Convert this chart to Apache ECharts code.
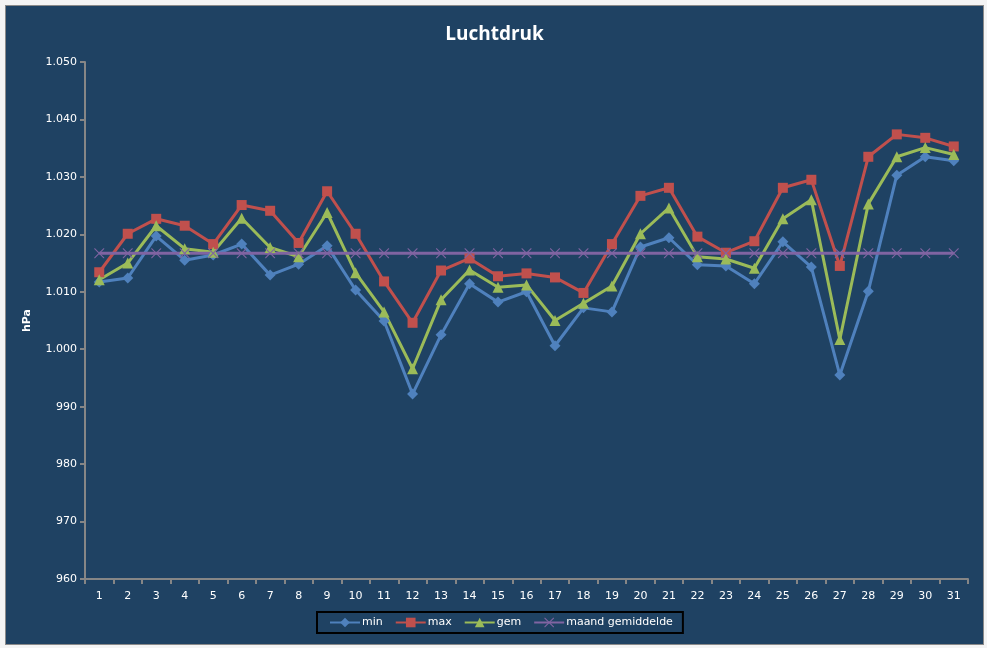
<!DOCTYPE html>
<html>
<head>
<meta charset="utf-8">
<script src="https://cdn.jsdelivr.net/npm/echarts@6/dist/echarts.min.js"></script>
<style>
  html, body { margin: 0; padding: 0; background: #f4f4f4; }
  #chart {
    position: absolute; left: 5px; top: 5px;
    width: 979px; height: 640px;
    box-sizing: border-box;
    border: 1px solid #8a8a8a;
    background: #1f4263;
  }
</style>
</head>
<body>
<div id="chart"></div>
<script>
// dagen van de maand
var days = ['1', '2', '3', '4', '5', '6', '7', '8', '9', '10', '11', '12', '13', '14', '15', '16',
  '17', '18', '19', '20', '21', '22', '23', '24', '25', '26', '27', '28', '29', '30', '31']

var minValues = [1011.7, 1012.4, 1019.7, 1015.5, 1016.4, 1018.3, 1012.9, 1014.8, 1018.0, 1010.3,
  1004.9, 992.2, 1002.5, 1011.4, 1008.2, 1010.0, 1000.6, 1007.2, 1006.5, 1017.8,
  1019.4, 1014.7, 1014.5, 1011.4, 1018.7, 1014.3, 995.5, 1010.1, 1030.3, 1033.5, 1032.8]

var maxValues = [1013.4, 1020.1, 1022.7, 1021.5, 1018.3, 1025.1, 1024.1, 1018.5, 1027.5, 1020.1,
  1011.8, 1004.6, 1013.7, 1015.8, 1012.7, 1013.2, 1012.5, 1009.8, 1018.3, 1026.7,
  1028.1, 1019.6, 1016.8, 1018.8, 1028.1, 1029.5, 1014.5, 1033.5, 1037.4, 1036.8, 1035.3]

var gemValues = [1012.1, 1015.0, 1021.5, 1017.5, 1016.9, 1022.8, 1017.7, 1016.1, 1023.8, 1013.3,
  1006.5, 996.6, 1008.6, 1013.8, 1010.8, 1011.2, 1005.0, 1008.0, 1011.0, 1020.1,
  1024.6, 1016.1, 1015.7, 1014.1, 1022.7, 1026.0, 1001.7, 1025.3, 1033.5, 1035.1, 1033.9]

var maandGem = 1016.7
var maandValues = days.map(function () { return maandGem })

var yMin = 960
var yMax = 1050
var yStep = 10

// dun kruisje als marker
var crossPath = 'path://M0,0L0.8,0L5,4.2L9.2,0L10,0L10,0.8L5.8,5L10,9.2L10,10L9.2,10L5,5.8L0.8,10L0,10L0,9.2L4.2,5L0,0.8Z'

function lineSeries(name, data, color, symbol, size) {
  return {
    name: name,
    type: 'line',
    data: data,
    symbol: symbol,
    symbolSize: size,
    showAllSymbol: true,
    animation: false,
    itemStyle: { color: color },
    lineStyle: { color: color, width: 3 }
  }
}

var chart = echarts.init(document.getElementById('chart'))
chart.setOption({
  backgroundColor: '#1f4263',
  textStyle: { fontFamily: 'DejaVu Sans' },
  title: {
    text: 'Luchtdruk',
    left: 'center',
    top: 14,
    textStyle: { color: '#ffffff', fontSize: 19, fontWeight: 'bold', fontFamily: 'Open Sans' }
  },
  grid: {
    left: 79,
    top: 56,
    width: 883,
    height: 517
  },
  legend: {
    left: 311,
    top: 606,
    padding: [5, 10, 5, 12],
    itemGap: 12,
    itemWidth: 30,
    itemHeight: 12,
    borderColor: '#000000',
    borderWidth: 2,
    textStyle: { color: '#ffffff', fontSize: 11, padding: [0, 0, 0, -3] },
    data: ['min', 'max', 'gem', 'maand gemiddelde']
  },
  xAxis: {
    type: 'category',
    data: days,
    boundaryGap: true,
    axisLine: { lineStyle: { color: '#868686', width: 2 } },
    axisTick: { show: true, interval: 0, length: 5, lineStyle: { color: '#868686', width: 2 } },
    axisLabel: { color: '#ffffff', fontSize: 11, margin: 12, interval: 0 },
    splitLine: { show: false }
  },
  yAxis: {
    type: 'value',
    min: yMin,
    max: yMax,
    interval: yStep,
    name: 'hPa',
    nameLocation: 'middle',
    nameRotate: 90,
    nameGap: 52,
    nameTextStyle: { color: '#ffffff', fontSize: 11, fontWeight: 'bold' },
    axisLine: { show: true, lineStyle: { color: '#868686', width: 2 } },
    axisTick: { show: true, length: 5, lineStyle: { color: '#868686', width: 2 } },
    axisLabel: {
      color: '#ffffff',
      fontSize: 11,
      margin: 8,
      formatter: function (v) {
        return v >= 1000 ? Math.floor(v / 1000) + '.' + String(v % 1000).padStart(3, '0') : String(v)
      }
    },
    splitLine: { show: false }
  },
  series: [
    lineSeries('min', minValues, '#4f81bd', 'diamond', 11),
    lineSeries('max', maxValues, '#c0504d', 'rect', 10),
    lineSeries('gem', gemValues, '#9bbb59', 'triangle', 11),
    lineSeries('maand gemiddelde', maandValues, '#8064a2', crossPath, 10)
  ]
})
</script>
</body>
</html>
